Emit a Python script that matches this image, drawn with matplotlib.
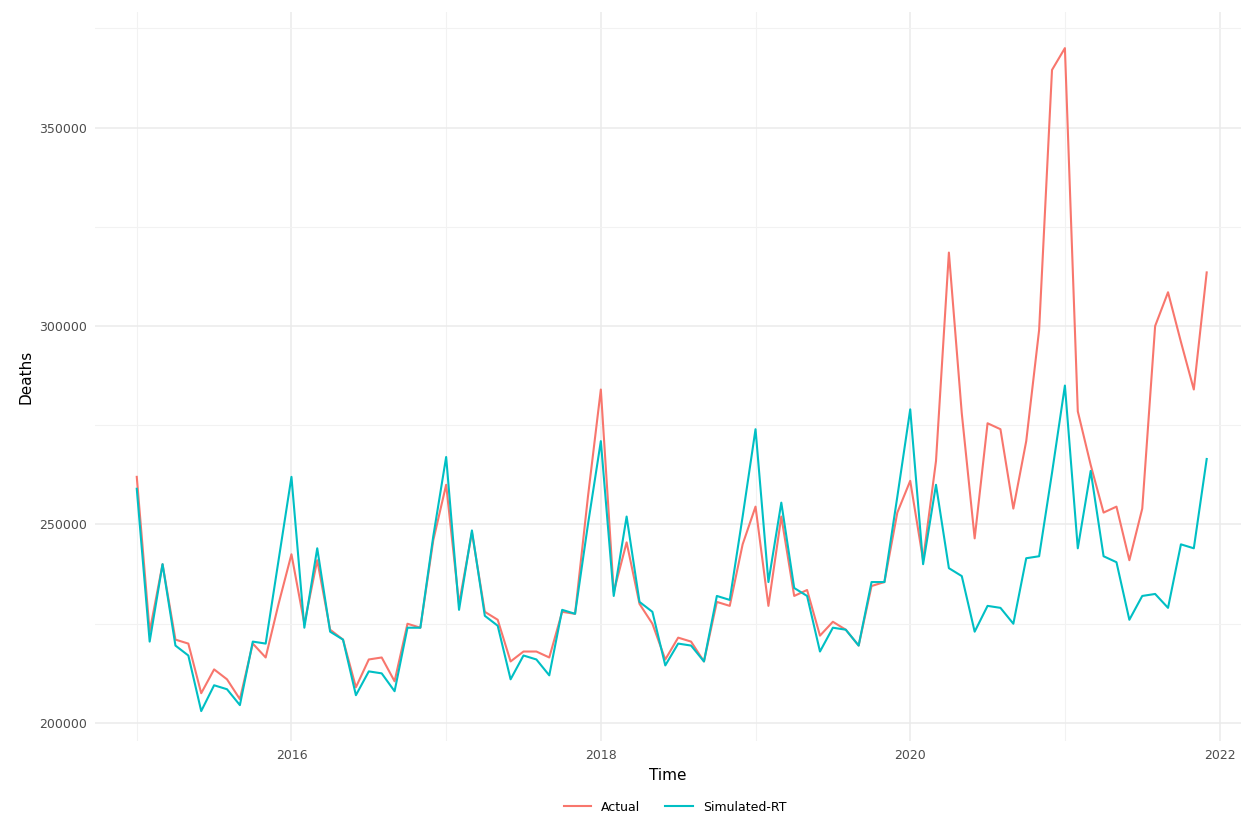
import numpy as np
import matplotlib.pyplot as plt
from matplotlib.ticker import MultipleLocator

# monthly values, Jan 2015 .. Dec 2021
actual = [
    262000, 223000, 240000, 221000, 220000, 207500, 213500, 211000, 206000, 220000, 216500, 230000,
    242500, 225000, 241000, 223500, 221000, 209000, 216000, 216500, 210500, 225000, 224000, 246000,
    260000, 230000, 248000, 228000, 226000, 215500, 218000, 218000, 216500, 228000, 227500, 257000,
    284000, 233000, 245500, 230000, 225000, 216000, 221500, 220500, 215500, 230500, 229500, 245000,
    254500, 229500, 252000, 232000, 233500, 222000, 225500, 223500, 219500, 234500, 235500, 253000,
    261000, 241000, 266000, 318500, 278000, 246500, 275500, 274000, 254000, 271000, 299000, 364500,
    370000, 278500, 265000, 253000, 254500, 241000, 254000, 300000, 308500, 296000, 284000, 313500,
]
simulated = [
    259000, 220500, 240000, 219500, 217000, 203000, 209500, 208500, 204500, 220500, 220000, 241000,
    262000, 224000, 244000, 223000, 221000, 207000, 213000, 212500, 208000, 224000, 224000, 247000,
    267000, 228500, 248500, 227000, 224500, 211000, 217000, 216000, 212000, 228500, 227500, 250000,
    271000, 232000, 252000, 230500, 228000, 214500, 220000, 219500, 215500, 232000, 231000, 252000,
    274000, 235500, 255500, 234000, 232000, 218000, 224000, 223500, 219500, 235500, 235500, 257000,
    279000, 240000, 260000, 239000, 237000, 223000, 229500, 229000, 225000, 241500, 242000, 263000,
    285000, 244000, 263500, 242000, 240500, 226000, 232000, 232500, 229000, 245000, 244000, 266500,
]
t = 2015 + np.arange(len(actual)) / 12.0

fig = plt.figure(figsize=(12.5, 8.25), dpi=100)
ax = fig.add_axes([0.076, 0.102, 0.917, 0.883])
ax.plot(t, actual, color="#F8766D", lw=1.5, label="Actual")
ax.plot(t, simulated, color="#00BFC4", lw=1.5, label="Simulated-RT")

ax.set_xlim(2014.73, 2022.14)
ax.set_ylim(195500, 379000)
ax.xaxis.set_major_locator(MultipleLocator(2))
ax.xaxis.set_minor_locator(MultipleLocator(1))
ax.yaxis.set_major_locator(MultipleLocator(50000))
ax.yaxis.set_minor_locator(MultipleLocator(25000))
ax.grid(which="major", color="#ebebeb", lw=1.1)
ax.grid(which="minor", color="#f2f2f2", lw=0.8)
ax.set_axisbelow(True)
for s in ax.spines.values():
    s.set_visible(False)
ax.tick_params(which="both", length=0, labelsize=9, colors="#4d4d4d", pad=6)
ax.set_xlabel("Time", fontsize=11)
ax.set_ylabel("Deaths", fontsize=11)
fig.legend(loc="lower center", ncol=2, frameon=False, fontsize=9,
           bbox_to_anchor=(0.54, 0.0), handlelength=2.2)

plt.savefig("out.png")
